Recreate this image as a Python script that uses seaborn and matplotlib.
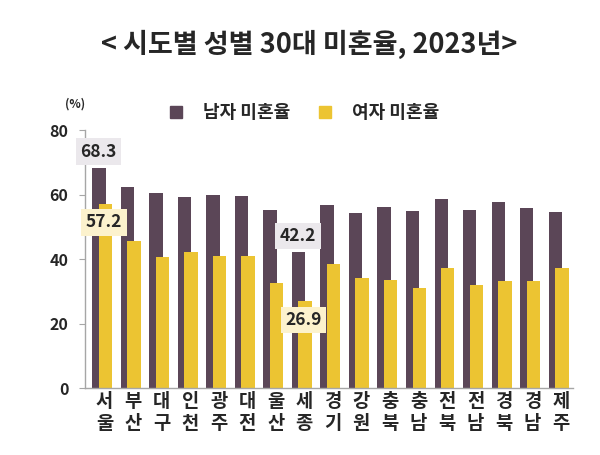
import numpy as np
import pandas as pd
import matplotlib
matplotlib.use("Agg")
import matplotlib.pyplot as plt
from matplotlib.lines import Line2D
import seaborn as sns

# 데이터
regions = ["서울", "부산", "대구", "인천", "광주", "대전", "울산", "세종", "경기",
           "강원", "충북", "충남", "전북", "전남", "경북", "경남", "제주"]
male = [68.3, 62.3, 60.4, 59.3, 59.9, 59.7, 55.1, 42.2, 56.9,
        54.2, 56.2, 54.9, 58.5, 55.1, 57.8, 55.7, 54.5]
female = [57.2, 45.6, 40.8, 42.1, 41.1, 41.1, 32.5, 26.9, 38.5,
          34.1, 33.6, 31.0, 37.3, 31.9, 33.1, 33.1, 37.1]
highlight = ["서울", "세종"]
yticks = [0, 20, 40, 60, 80]

male_color = "#5b4657"
female_color = "#ecc432"

sns.set_style("white")
plt.rcParams["font.family"] = ["Noto Sans CJK KR", "DejaVu Sans"]

pos = np.arange(len(regions))
df = pd.DataFrame({"region": regions, "male": male, "female": female, "pos": pos})

fig = plt.figure(figsize=(6, 4.55), dpi=100)
ax = fig.add_axes([0.142, 0.147, 0.813, 0.567])

# 남자 막대 뒤, 여자 막대 앞 (겹침)
sns.barplot(x=df["pos"] - 0.2, y=df["male"], native_scale=True, width=0.47,
            color=male_color, saturation=1, linewidth=0, ax=ax)
sns.barplot(x=df["pos"] + 0.03, y=df["female"], native_scale=True, width=0.47,
            color=female_color, saturation=1, linewidth=0, ax=ax)

ax.set_xlim(-0.68, len(regions) - 1 + 0.42)
ax.set_ylim(0, 80)
ax.set_yticks(yticks)
ax.set_yticklabels([str(t) for t in yticks], fontsize=11.5, fontweight="bold")
ax.set_xticks(pos)
ax.set_xticklabels(["\n".join(r) for r in regions], fontsize=13.5, fontweight="bold",
                   linespacing=1.15)
ax.set_xlabel("")
ax.set_ylabel("")

for s in ["top", "right"]:
    ax.spines[s].set_visible(False)
for s in ["left", "bottom"]:
    ax.spines[s].set_color("#a6a6a6")
    ax.spines[s].set_linewidth(1)
ax.tick_params(axis="y", direction="out", length=4, color="#a6a6a6", pad=8, left=True)
ax.tick_params(axis="x", length=0, pad=3)

# 값 표시 (서울, 세종)
for r in highlight:
    i = regions.index(r)
    ax.text(i - 0.22, male[i] + 5, f"{male[i]:.1f}", ha="center", va="center",
            fontsize=12.5, fontweight="bold",
            bbox=dict(boxstyle="square,pad=0.25", fc="#ebe8ec", ec="none"))
    ax.text(i - 0.02, female[i] - 5.8, f"{female[i]:.1f}", ha="center", va="center",
            fontsize=12.5, fontweight="bold",
            bbox=dict(boxstyle="square,pad=0.25", fc="#fcf2cd", ec="none"))

handles = [Line2D([], [], marker="s", linestyle="none", markersize=9,
                  color=male_color, label="남자 미혼율"),
           Line2D([], [], marker="s", linestyle="none", markersize=9,
                  color=female_color, label="여자 미혼율")]
fig.legend(handles=handles, loc="center", bbox_to_anchor=(0.498, 0.752), ncol=2,
           frameon=False, prop={"size": 13, "weight": "bold"}, handletextpad=0.5,
           columnspacing=0.9)

fig.text(0.125, 0.771, "(%)", ha="center", va="center", fontsize=8.5, fontweight="bold")
fig.text(0.515, 0.903, "< 시도별 성별 30대 미혼율, 2023년>", ha="center", va="center",
         fontsize=19.5, fontweight="bold")

fig.savefig("out.png", dpi=100)
